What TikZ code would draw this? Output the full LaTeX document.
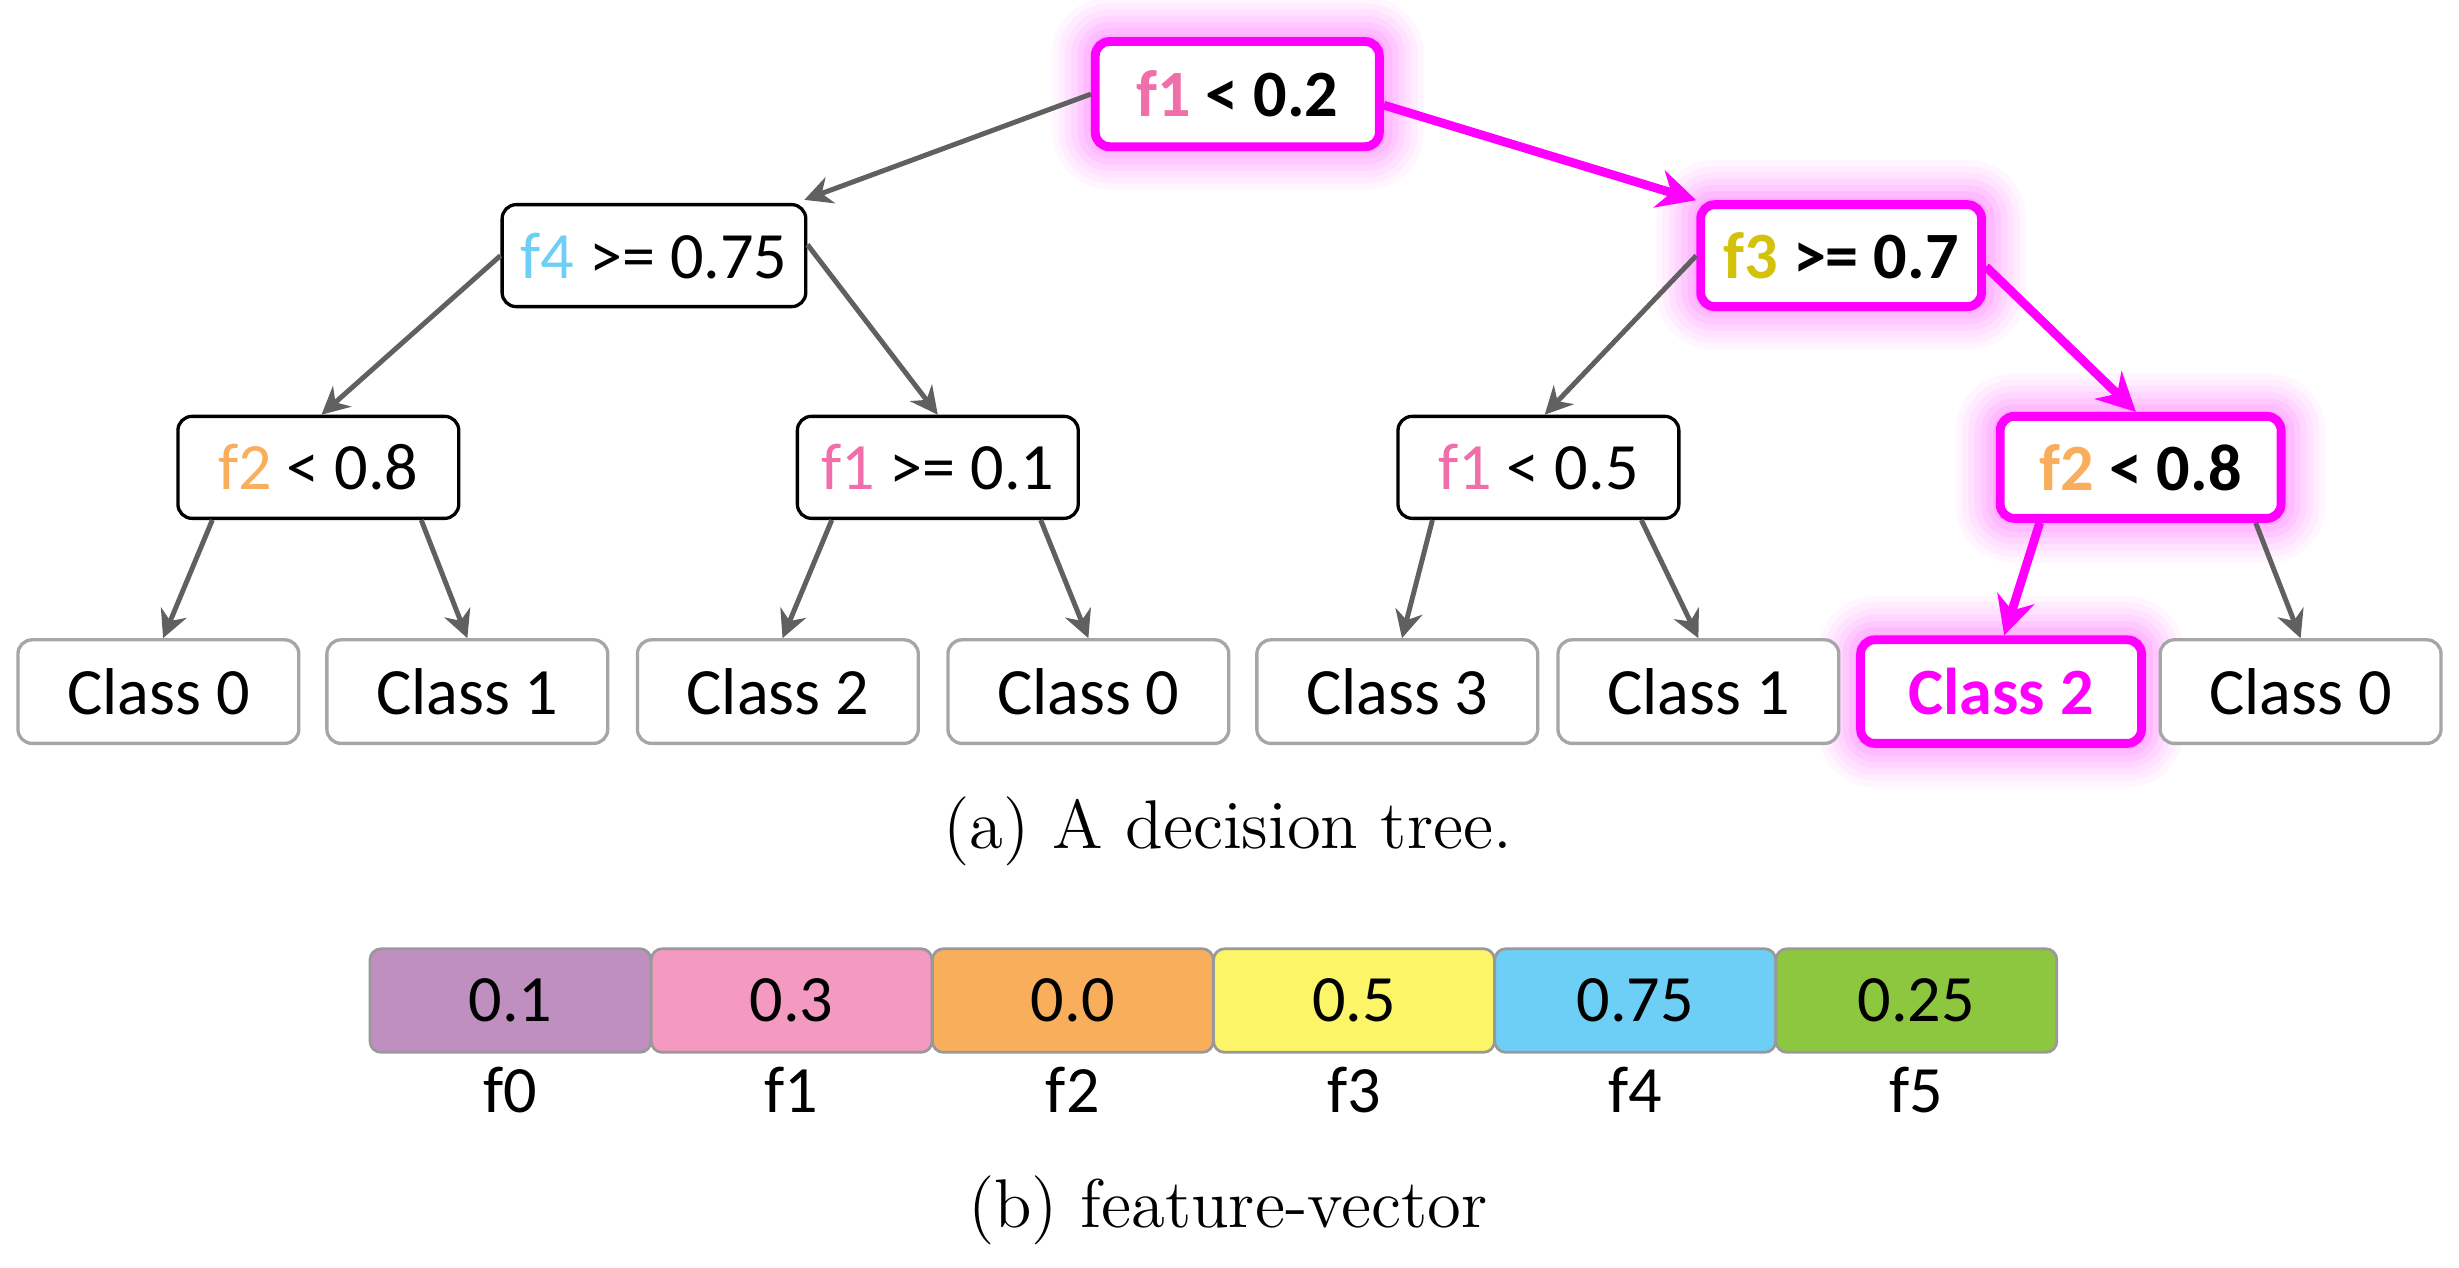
\documentclass[tikz,border=0pt]{standalone}
\usepackage{fontspec}
\newfontfamily\carl{Carlito}
\usetikzlibrary{arrows.meta}
\definecolor{mag}{HTML}{FF00FF}
\definecolor{cfa}{HTML}{F06EAA}
\definecolor{cfb}{HTML}{F9AE5B}
\definecolor{cfc}{HTML}{D4C20A}
\definecolor{cfd}{HTML}{6DCFF6}
\definecolor{ff0}{HTML}{BF8FBF}
\definecolor{ff1}{HTML}{F49AC1}
\definecolor{ff2}{HTML}{F9AE5B}
\definecolor{ff3}{HTML}{FDF568}
\definecolor{ff4}{HTML}{6DCFF6}
\definecolor{ff5}{HTML}{8DC63F}
\definecolor{edg}{HTML}{606060}
\begin{document}
\begin{tikzpicture}[x=0.01cm,y=-0.01cm,
 inner/.style={draw=black,line width=0.6pt,rounded corners=0.09cm,minimum width=1.79cm,minimum height=0.65cm,font=\carl\fontsize{12}{14}\selectfont,fill=white},
 leaf/.style={draw=gray!70,line width=0.6pt,rounded corners=0.09cm,minimum width=1.79cm,minimum height=0.66cm,font=\carl\fontsize{12}{14}\selectfont,fill=white},
 hl/.style={draw=mag,line width=1.6pt,font=\carl\bfseries\fontsize{12}{14}\selectfont},
 e/.style={draw=edg,line width=0.9pt,-{Stealth[length=5pt,width=5pt]}},
 he/.style={draw=mag,line width=1.6pt,-{Stealth[length=7pt,width=7pt]}},
 fv/.style={draw=gray!80,line width=0.5pt,rounded corners=0.07cm,minimum width=1.79cm,minimum height=0.66cm,font=\carl\fontsize{12}{14}\selectfont},
 fl/.style={font=\carl\fontsize{12}{14}\selectfont},
 capt/.style={font=\fontsize{12.5}{14}\selectfont}]
\useasboundingbox (0,0) rectangle (1568,808);
% glow around highlighted boxes
\foreach \d/\o in {28/0.035,24/0.04,20/0.045,16/0.05,12/0.06,8/0.07,4/0.08}{
 \foreach \xa/\ya/\xb/\yb in {699/26/880/93,1084/130/1264/195,1275/266/1455/331,1187/408/1365/474}{
  \fill[mag,opacity=\o,rounded corners=\d*0.01cm+0.09cm] (\xa-\d,\ya-\d) rectangle (\xb+\d,\yb+\d);
 }
}
\node[inner,hl,minimum width=1.81cm,minimum height=0.67cm] (r) at (789,60) {\textcolor{cfa}{f1} < 0.2};
\node[inner] (a) at (417,163) {\textcolor{cfd}{f4} >= 0.75};
\node[inner,hl] (b) at (1174,163) {\textcolor{cfc}{f3} >= 0.7};
\node[inner] (c) at (203,298) {\textcolor{cfb}{f2} < 0.8};
\node[inner] (d) at (598,298) {\textcolor{cfa}{f1} >= 0.1};
\node[inner] (g) at (981,298) {\textcolor{cfa}{f1} < 0.5};
\node[inner,hl] (h) at (1365,298) {\textcolor{cfb}{f2} < 0.8};
\node[leaf] (l1) at (101,441) {Class 0};
\node[leaf] (l2) at (298,441) {Class 1};
\node[leaf] (l3) at (496,441) {Class 2};
\node[leaf] (l4) at (694,441) {Class 0};
\node[leaf] (l5) at (891,441) {Class 3};
\node[leaf] (l6) at (1083,441) {Class 1};
\node[leaf,hl,text=mag] (l7) at (1276,441) {Class 2};
\node[leaf] (l8) at (1467,441) {Class 0};
% edges
\draw[e] (r.west) -- ([xshift=-0.02cm,yshift=0.02cm]a.north east);
\draw[he] ([yshift=-2pt]r.east) -- (b.north west);
\draw[e] (a.west) -- ([xshift=0.02cm]c.north);
\draw[e] ([yshift=2pt]a.east) -- (d.north);
\draw[e] (b.west) -- ([xshift=0.04cm]g.north);
\draw[he] ([yshift=-2pt]b.east) -- ([xshift=-0.03cm]h.north);
\foreach \p/\q/\r in {c/l1/l2,d/l3/l4,g/l5/l6}{
 \draw[e] ([xshift=0.23cm]\p.south west) -- ([xshift=0.03cm]\q.north);
 \draw[e] ([xshift=-0.25cm]\p.south east) -- (\r.north);
}
\draw[he] ([xshift=0.28cm]h.south west) -- ([xshift=0.02cm]l7.north);
\draw[e] ([xshift=-0.19cm]h.south east) -- (l8.north);
\node[capt] (ca) at (783,530) {(a) A decision tree.};
% feature vector
\foreach \i/\v in {0/0.1,1/0.3,2/0.0,3/0.5,4/0.75,5/0.25}{
 \node[fv,fill=ff\i] (v\i) at ({325.5+179.3*\i},638) {\v};
 \node[fl] (t\i) at ([yshift=-0.23cm]v\i.south) {f\i};
}
\node[capt] (cb) at (783,772) {(b) feature-vector};
\end{tikzpicture}
\end{document}
